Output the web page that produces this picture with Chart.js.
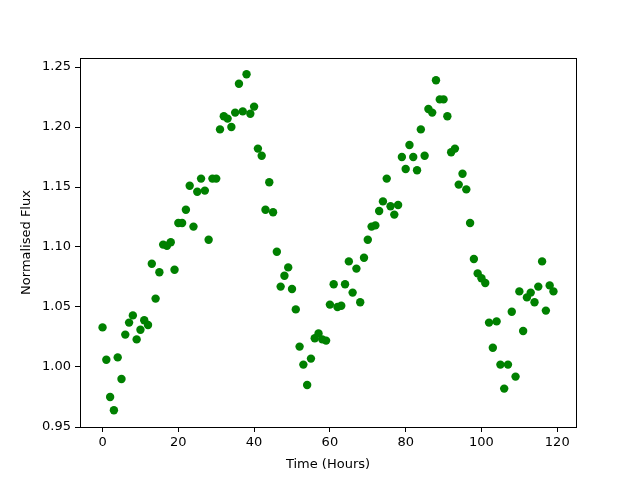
<!DOCTYPE html>
<html>
<head>
<meta charset="utf-8">
<script src="https://cdn.jsdelivr.net/npm/chart.js@4/dist/chart.umd.min.js"></script>
<style>
  html, body { margin: 0; padding: 0; background: #fff; }
  #wrap { width: 640px; height: 480px; }
</style>
</head>
<body>
<div id="wrap"><canvas id="fluxChart" width="640" height="480"></canvas></div>
<script>
// Horas de observación
const hours = [];
for (let h = 0; h < 120; h++) hours.push(h);

// Flujo normalizado
const flux = [
  1.033, 1.006, 0.975, 0.964, 1.008, 0.990, 1.027, 1.037, 1.043, 1.023,
  1.031, 1.039, 1.035, 1.086, 1.057, 1.079, 1.102, 1.101, 1.104, 1.081,
  1.120, 1.120, 1.131, 1.151, 1.117, 1.146, 1.157, 1.147, 1.106, 1.157,
  1.157, 1.198, 1.209, 1.207, 1.200, 1.212, 1.236, 1.213, 1.244, 1.211,
  1.217, 1.182, 1.176, 1.131, 1.154, 1.129, 1.096, 1.067, 1.076, 1.083,
  1.065, 1.048, 1.017, 1.002, 0.985, 1.007, 1.024, 1.028, 1.023, 1.022,
  1.052, 1.069, 1.050, 1.051, 1.069, 1.088, 1.062, 1.082, 1.054, 1.091,
  1.106, 1.117, 1.118, 1.130, 1.138, 1.157, 1.134, 1.127, 1.135, 1.175,
  1.165, 1.185, 1.175, 1.164, 1.198, 1.176, 1.215, 1.212, 1.239, 1.223,
  1.223, 1.209, 1.179, 1.182, 1.152, 1.161, 1.148, 1.120, 1.090, 1.078,
  1.074, 1.070, 1.037, 1.016, 1.038, 1.002, 0.982, 1.002, 1.046, 0.992,
  1.063, 1.030, 1.058, 1.062, 1.054, 1.067, 1.088, 1.047, 1.068, 1.063
];

const xTicks = [0, 20, 40, 60, 80, 100, 120];
const yTicks = [0.95, 1.00, 1.05, 1.10, 1.15, 1.20, 1.25];

// Marco completo alrededor del área del gráfico
const framePlugin = {
  id: 'frame',
  afterDraw(chart) {
    const a = chart.chartArea;
    const ctx = chart.ctx;
    ctx.save();
    ctx.strokeStyle = '#000';
    ctx.lineWidth = 1;
    ctx.strokeRect(Math.round(a.left) + 0.5, Math.round(a.top) + 0.5,
      Math.round(a.right - a.left), Math.round(a.bottom - a.top));
    ctx.restore();
  }
};

const font = { family: 'DejaVu Sans', size: 13 };

new Chart(document.getElementById('fluxChart'), {
  type: 'scatter',
  data: {
    datasets: [{
      data: hours.map((h, i) => ({ x: h, y: flux[i] })),
      backgroundColor: '#008000',
      borderColor: '#008000',
      pointRadius: 4.2,
      pointHoverRadius: 4.2,
      borderWidth: 0
    }]
  },
  options: {
    responsive: false,
    animation: false,
    layout: { padding: { top: 58, right: 64, left: 0, bottom: 0 } },
    plugins: { legend: { display: false }, tooltip: { enabled: false } },
    scales: {
      x: {
        type: 'linear',
        min: -5.95,
        max: 124.95,
        afterBuildTicks: s => { s.ticks = xTicks.map(v => ({ value: v })); },
        afterFit: s => { s.height = 53; },
        ticks: { color: '#000', font: font, padding: 3, maxRotation: 0,
          callback: v => String(v) },
        grid: { drawOnChartArea: false, drawTicks: true, tickLength: 5, color: '#000' },
        border: { color: '#000' },
        title: { display: true, text: 'Time (Hours)', color: '#000', font: font, padding: { top: 4, bottom: 8 } }
      },
      y: {
        type: 'linear',
        min: 0.95,
        max: 1.2575,
        afterBuildTicks: s => { s.ticks = yTicks.map(v => ({ value: v })); },
        afterFit: s => { s.width = 80; },
        ticks: { color: '#000', font: font, padding: 4,
          callback: v => Number(v).toFixed(2) },
        grid: { drawOnChartArea: false, drawTicks: true, tickLength: 5, color: '#000' },
        border: { color: '#000' },
        title: { display: true, text: 'Normalised Flux', color: '#000', font: font, padding: { top: 19, bottom: 6 } }
      }
    }
  },
  plugins: [framePlugin]
});
</script>
</body>
</html>
